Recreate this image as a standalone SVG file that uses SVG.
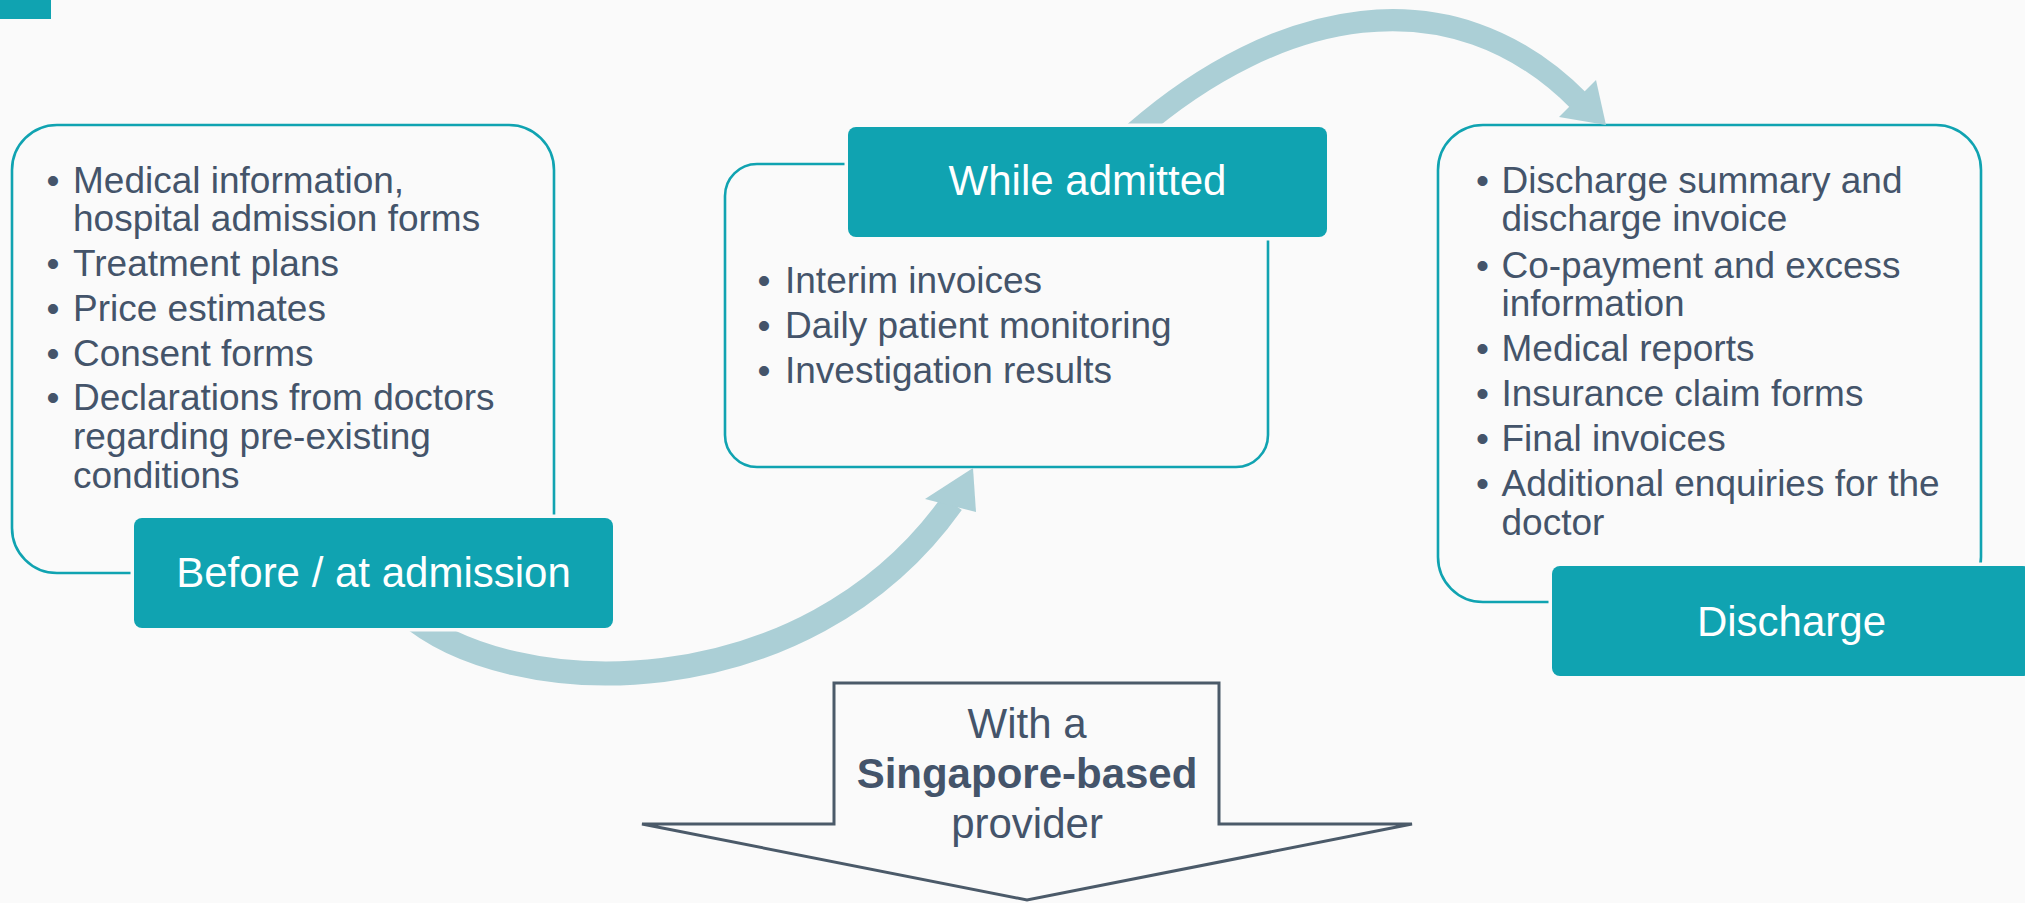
<svg xmlns="http://www.w3.org/2000/svg" width="2025" height="903" viewBox="0 0 2025 903">
<style>
.frame{fill:none;stroke:#10a3b1;stroke-width:2.6}
.lab{fill:#10a3b1;stroke:#fafafa;stroke-width:7;paint-order:stroke}
.labt{font-family:"Liberation Sans",Arial,sans-serif;font-size:42px;fill:#ffffff;text-anchor:middle}
.it{font-family:"Liberation Sans",Arial,sans-serif;font-size:37px;fill:#44546a}
.band{fill:none;stroke:#abcfd6}
.head{fill:#abcfd6}
.dn{font-family:"Liberation Sans",Arial,sans-serif;font-size:42px;fill:#44546a;text-anchor:middle}
</style>
<rect x="0" y="0" width="2025" height="903" fill="#fafafa"/>
<rect x="0" y="0" width="51" height="19" fill="#10a3b1"/>

<g id="box-before">
<rect class="frame" x="12" y="125" width="542" height="448" rx="45"/>
<g class="it">
<text x="46.5" y="192.5">•</text><text x="73" y="192.5">Medical information,</text>
<text x="73" y="231">hospital admission forms</text>
<text x="46.5" y="276">•</text><text x="73" y="276">Treatment plans</text>
<text x="46.5" y="321">•</text><text x="73" y="321">Price estimates</text>
<text x="46.5" y="365.5">•</text><text x="73" y="365.5">Consent forms</text>
<text x="46.5" y="410">•</text><text x="73" y="410">Declarations from doctors</text>
<text x="73" y="449">regarding pre-existing</text>
<text x="73" y="488">conditions</text>
</g>
</g>

<g id="box-while">
<rect class="frame" x="725" y="164" width="543" height="303" rx="32"/>
<g class="it">
<text x="757.5" y="292.7">•</text><text x="785" y="292.7">Interim invoices</text>
<text x="757.5" y="337.7">•</text><text x="785" y="337.7">Daily patient monitoring</text>
<text x="757.5" y="382.7">•</text><text x="785" y="382.7">Investigation results</text>
</g>
</g>

<g id="box-discharge">
<rect class="frame" x="1438" y="125" width="543" height="477" rx="45"/>
<g class="it">
<text x="1476" y="192.7">•</text><text x="1501.5" y="192.7">Discharge summary and</text>
<text x="1501.5" y="231">discharge invoice</text>
<text x="1476" y="277.5">•</text><text x="1501.5" y="277.5">Co-payment and excess</text>
<text x="1501.5" y="316">information</text>
<text x="1476" y="361">•</text><text x="1501.5" y="361">Medical reports</text>
<text x="1476" y="406">•</text><text x="1501.5" y="406">Insurance claim forms</text>
<text x="1476" y="451">•</text><text x="1501.5" y="451">Final invoices</text>
<text x="1476" y="496">•</text><text x="1501.5" y="496">Additional enquiries for the</text>
<text x="1501.5" y="534.5">doctor</text>
</g>
</g>

<g id="connectors">
<path class="band" stroke-width="24" d="M 405 612 C 510 705, 805 710, 952 503"/>
<polygon class="head" points="925,499 973,468 976,512"/>
<path class="band" stroke-width="22" d="M 1135 132 C 1275.6 9.75, 1450.5 -29.4, 1580 102"/>
<polygon class="head" points="1559,117 1596,80 1606,125"/>
</g>

<g id="label-before">
<rect class="lab" x="134" y="518" width="479" height="110" rx="8"/>
<text class="labt" x="373.5" y="587">Before / at admission</text>
</g>
<g id="label-while">
<rect class="lab" x="848" y="127" width="479" height="110" rx="8"/>
<text class="labt" x="1087.5" y="195">While admitted</text>
</g>
<g id="label-discharge">
<rect class="lab" x="1552" y="566" width="479" height="110" rx="8"/>
<text class="labt" x="1791.5" y="636">Discharge</text>
</g>

<g id="down-arrow">
<polygon points="834,683 1219,683 1219,824 1412,824 1027,900 642,824 834,824" fill="none" stroke="#4b5a69" stroke-width="3"/>
<text class="dn" x="1027" y="738.3">With a</text>
<text class="dn" x="1027" y="788.3" font-weight="bold">Singapore-based</text>
<text class="dn" x="1027" y="838.3">provider</text>
</g>
</svg>
